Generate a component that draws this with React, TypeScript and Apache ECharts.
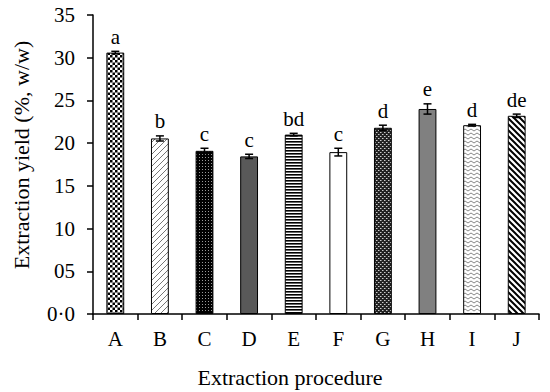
import React, { useEffect, useRef } from "react";
import * as echarts from "echarts";

const categories = ["A", "B", "C", "D", "E", "F", "G", "H", "I", "J"];
const yieldValues = [30.6, 20.55, 19.1, 18.45, 21.0, 18.95, 21.8, 24.0, 22.1, 23.2];
const errorValues = [0.15, 0.3, 0.3, 0.25, 0.15, 0.45, 0.3, 0.6, 0.1, 0.2];
const letters = ["a", "b", "c", "c", "bd", "c", "d", "e", "d", "de"];
const yTickLabels: Record<number, string> = { 0: "0·0", 5: "05", 10: "10", 15: "15", 20: "20", 25: "25", 30: "30", 35: "35" };
const xTitle = "Extraction procedure";
const yTitle = "Extraction yield (%, w/w)";

const FONT = "'Liberation Serif', 'Times New Roman', serif";

function makeCanvas(w: number, h: number, draw: (ctx: CanvasRenderingContext2D) => void) {
  const c = document.createElement("canvas");
  c.width = w;
  c.height = h;
  const ctx = c.getContext("2d")!;
  draw(ctx);
  return c;
}

function buildPatterns() {
  const A = makeCanvas(5, 5, (ctx) => {
    ctx.fillStyle = "#fff"; ctx.fillRect(0, 0, 5, 5);
    ctx.fillStyle = "#000"; ctx.fillRect(0, 0, 2.5, 2.5); ctx.fillRect(2.5, 2.5, 2.5, 2.5);
  });
  const B = makeCanvas(6, 6, (ctx) => {
    ctx.fillStyle = "#fff"; ctx.fillRect(0, 0, 6, 6);
    ctx.strokeStyle = "#777"; ctx.lineWidth = 1;
    ctx.beginPath(); ctx.moveTo(0, 6); ctx.lineTo(6, 0); ctx.moveTo(-3, 3); ctx.lineTo(3, -3); ctx.moveTo(3, 9); ctx.lineTo(9, 3); ctx.stroke();
  });
  const C = makeCanvas(3, 3, (ctx) => {
    ctx.fillStyle = "#000"; ctx.fillRect(0, 0, 3, 3);
    ctx.fillStyle = "#999"; ctx.fillRect(1, 1, 1, 1);
  });
  const E = makeCanvas(4, 3, (ctx) => {
    ctx.fillStyle = "#fff"; ctx.fillRect(0, 0, 4, 3);
    ctx.fillStyle = "#000"; ctx.fillRect(0, 0, 4, 1.6);
  });
  const G = makeCanvas(4, 4, (ctx) => {
    ctx.fillStyle = "#222"; ctx.fillRect(0, 0, 4, 4);
    ctx.fillStyle = "#ccc"; ctx.fillRect(0, 0, 1, 1); ctx.fillRect(2, 2, 1, 1);
    ctx.fillStyle = "#777"; ctx.fillRect(1, 0, 1, 1); ctx.fillRect(3, 2, 1, 1);
  });
  const I = makeCanvas(6, 4, (ctx) => {
    ctx.fillStyle = "#fff"; ctx.fillRect(0, 0, 6, 4);
    ctx.strokeStyle = "#888"; ctx.lineWidth = 1;
    ctx.beginPath(); ctx.moveTo(0, 3); ctx.lineTo(3, 1); ctx.lineTo(6, 3); ctx.stroke();
  });
  const J = makeCanvas(6, 6, (ctx) => {
    ctx.fillStyle = "#fff"; ctx.fillRect(0, 0, 6, 6);
    ctx.strokeStyle = "#000"; ctx.lineWidth = 2;
    ctx.beginPath(); ctx.moveTo(0, 0); ctx.lineTo(6, 6); ctx.moveTo(-3, 3); ctx.lineTo(3, 9); ctx.moveTo(3, -3); ctx.lineTo(9, 3); ctx.stroke();
  });
  const pat = (c: HTMLCanvasElement) => ({ image: c.toDataURL(), repeat: "repeat" as const });
  return [pat(A), pat(B), pat(C), "#595959", pat(E), "#ffffff", pat(G), "#808080", pat(I), pat(J)];
}

export default function App() {
  const ref = useRef<HTMLDivElement>(null);
  useEffect(() => {
    if (!ref.current) return;
    const chart = echarts.init(ref.current, undefined, { renderer: "svg" });
    const fills = buildPatterns();
    chart.setOption({
      animation: false,
      grid: { left: 93, right: 11, top: 15, bottom: 78 },
      graphic: [
        {
          type: "text",
          x: 290,
          y: 377,
          style: { text: xTitle, fontFamily: FONT, fontSize: 22, fill: "#000", align: "center", verticalAlign: "middle" },
        },
        {
          type: "text",
          x: 21,
          y: 155,
          rotation: Math.PI / 2,
          style: { text: yTitle, fontFamily: FONT, fontSize: 22, fill: "#000", align: "center", verticalAlign: "middle" },
        },
      ],
      xAxis: {
        type: "category",
        data: categories,
        axisLine: { lineStyle: { color: "#000", width: 1.5 } },
        axisTick: { show: true, length: 6, lineStyle: { color: "#000", width: 1.5 } },
        axisLabel: { fontFamily: FONT, fontSize: 21, color: "#000", margin: 14 },
      },
      yAxis: {
        type: "value",
        min: 0,
        max: 35,
        interval: 5,
        axisLine: { show: true, lineStyle: { color: "#000", width: 1.5 } },
        axisTick: { show: true, length: 6, lineStyle: { color: "#000", width: 1.5 } },
        splitLine: { show: false },
        axisLabel: {
          fontFamily: FONT, fontSize: 21, color: "#000", margin: 18,
          formatter: (v: number) => yTickLabels[v] ?? String(v),
        },
      },
      series: [
        {
          type: "bar",
          barWidth: "40%",
          data: yieldValues.map((v, i) => ({
            value: v,
            itemStyle: { color: fills[i], borderColor: "#000", borderWidth: 1 },
          })),
        },
        {
          type: "custom",
          clip: false,
          z: 10,
          data: yieldValues.map((v, i) => [i, v, errorValues[i]]),
          renderItem: (params: any, api: any) => {
            const i = api.value(0);
            const v = api.value(1);
            const e = api.value(2);
            const top = api.coord([i, v + e]);
            const bot = api.coord([i, v - e]);
            const hw = 4;
            const st = { stroke: "#000", lineWidth: 1.5 };
            return {
              type: "group",
              children: [
                { type: "line", shape: { x1: top[0], y1: top[1], x2: bot[0], y2: bot[1] }, style: st },
                { type: "line", shape: { x1: top[0] - hw, y1: top[1], x2: top[0] + hw, y2: top[1] }, style: st },
                { type: "line", shape: { x1: bot[0] - hw, y1: bot[1], x2: bot[0] + hw, y2: bot[1] }, style: st },
                {
                  type: "text",
                  x: top[0],
                  y: top[1] - 4,
                  style: {
                    text: letters[params.dataIndex],
                    fontFamily: FONT,
                    fontSize: 21,
                    fill: "#000",
                    align: "center",
                    verticalAlign: "bottom",
                  },
                },
              ],
            };
          },
        },
      ],
    });
    return () => chart.dispose();
  }, []);
  return <div ref={ref} style={{ width: 550, height: 392, position: "absolute", left: 0, top: 0, background: "#fff" }} />;
}
